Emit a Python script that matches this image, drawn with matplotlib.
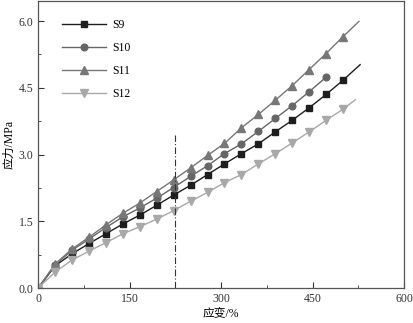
import matplotlib
matplotlib.use('Agg')
import matplotlib.pyplot as plt
import numpy as np

plt.rcParams['font.family'] = ['Liberation Serif', 'Noto Sans CJK SC']
plt.rcParams['axes.unicode_minus'] = False

# strain points (%) shared by the marked curves
strain = np.array([0, 27.8, 55.6, 83.3, 111.1, 138.9, 166.7, 194.4, 222.2, 250.0,
                   277.8, 305.6, 333.3, 361.1, 388.9, 416.7, 444.4, 472.2, 500.0])

s9 = [0, 0.50, 0.77, 1.00, 1.22, 1.44, 1.64, 1.86, 2.09, 2.31,
      2.55, 2.79, 3.02, 3.24, 3.51, 3.77, 4.05, 4.35, 4.67]
s10 = [0, 0.52, 0.85, 1.10, 1.36, 1.60, 1.80, 2.02, 2.26, 2.51,
       2.75, 3.02, 3.24, 3.52, 3.81, 4.10, 4.41, 4.74]
s11 = [0, 0.54, 0.88, 1.14, 1.42, 1.68, 1.91, 2.17, 2.43, 2.70,
       2.98, 3.25, 3.60, 3.90, 4.22, 4.55, 4.91, 5.27, 5.65]
s12 = [0, 0.36, 0.63, 0.83, 1.02, 1.22, 1.38, 1.55, 1.74, 1.95,
       2.15, 2.37, 2.55, 2.79, 3.02, 3.26, 3.51, 3.77, 4.02]

# curve end points past the last marker
end_x = {'S9': 528, 'S10': None, 'S11': 526, 'S12': 520}
end_y = {'S9': 5.02, 'S10': None, 'S11': 5.99, 'S12': 4.23}

series = [('S9', s9, 's', '#1e1e1e'),
          ('S10', s10, 'o', '#666666'),
          ('S11', s11, '^', '#777777'),
          ('S12', s12, 'v', '#a8a8a8')]

fig = plt.figure(figsize=(4.14, 3.23), dpi=100)
ax = fig.add_axes([0.092, 0.108, 0.884, 0.889])

for name, ys, mk, col in series:
    xs = list(strain[:len(ys)])
    yv = list(ys)
    n = len(xs)
    if end_x[name] is not None:
        xs.append(end_x[name])
        yv.append(end_y[name])
    ax.plot(xs, yv, color=col, lw=1.0, marker=mk, ms=4.8 if mk in 'so' else 5.3,
            markevery=list(range(n)), label=name)

ax.plot([225, 225], [0, 3.45], color='#333333', lw=0.8, ls='-.', dashes=(6, 2, 1, 2))

ax.set_xlim(0, 600)
ax.set_ylim(0, 6.45)
ax.set_xticks([0, 150, 300, 450, 600])
ax.set_xticks([75, 225, 375, 525], minor=True)
ax.set_yticks([0, 1.5, 3.0, 4.5, 6.0])
ax.set_yticks([0.75, 2.25, 3.75, 5.25], minor=True)
ax.set_yticklabels(['0.0', '1.5', '3.0', '4.5', '6.0'])
ax.tick_params(which='both', direction='in', labelsize=8.5, colors='#333333')
ax.tick_params(which='major', length=4)
ax.tick_params(which='minor', length=2.5)
for sp in ax.spines.values():
    sp.set_color('#555555')
    sp.set_linewidth(0.9)

ax.set_xlabel('应变/%', fontsize=8.5, labelpad=2)
ax.set_ylabel('应力/MPa', fontsize=8.5, labelpad=2)

ax.legend(loc='upper left', frameon=False, fontsize=8.5, handlelength=3.8,
          labelspacing=0.95, bbox_to_anchor=(0.035, 0.975), handletextpad=0.5)

fig.savefig('out.png', dpi=100)
